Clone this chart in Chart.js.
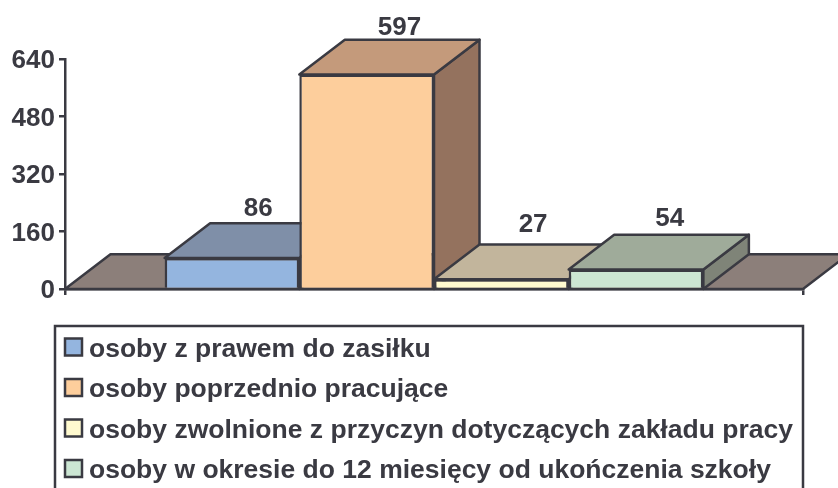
<!DOCTYPE html>
<html><head><meta charset="utf-8">
<style>html,body{margin:0;padding:0;background:#fff;overflow:hidden}#wrap{width:838px;height:488px;position:relative}</style>
<script src="https://cdn.jsdelivr.net/npm/chart.js@4"></script>
</head><body><div id="wrap"><canvas id="c" width="838" height="488"></canvas></div>
<script>
const categories = [""];
const seriesNames = [
  "osoby z prawem do zasiłku",
  "osoby poprzednio pracujące",
  "osoby zwolnione z przyczyn dotyczących zakładu pracy",
  "osoby w okresie do 12 miesięcy od ukończenia szkoły"
];
const seriesValues = [86, 597, 27, 54];
const tickValues = [0, 160, 320, 480, 640];
const frontColors = ["#94B5DF", "#FDCE9C", "#FFFACF", "#CCE6D3"];
const topColors = ["#7F8FA8", "#C49A7B", "#C2B59C", "#9FAB9A"];
const sideColors = ["#6A7688", "#94725E", "#9C9480", "#7F8478"];
const floorColor = "#8C7F7A";
const ink = "#3A3A42";
const fontFamily = '"Liberation Sans", Arial, sans-serif';
const depthX = 45.5, depthY = 34.8;
const labelShift = [[26.5, -14], [33, -12], [32, -19.5], [34, -16]];

function poly(ctx, pts, fill) {
  ctx.beginPath();
  pts.forEach((p, i) => i ? ctx.lineTo(p[0], p[1]) : ctx.moveTo(p[0], p[1]));
  ctx.closePath();
  ctx.fillStyle = fill;
  ctx.fill();
  ctx.stroke();
}

const depthPlugin = {
  id: "depth",
  beforeDatasetsDraw(chart) {
    const { ctx, chartArea: a, scales } = chart;
    const base = scales.y.getPixelForValue(0);
    ctx.save();
    ctx.strokeStyle = ink;
    ctx.lineWidth = 2.5;
    ctx.lineJoin = "round";
    poly(ctx, [[a.left, base], [a.left + depthX, base - depthY], [a.right + depthX, base - depthY], [a.right, base]], floorColor);
    chart.data.datasets.forEach((ds, i) => {
      const b = chart.getDatasetMeta(i).data[0];
      const l = b.x - b.width / 2, r = b.x + b.width / 2, t = b.y;
      poly(ctx, [[r, base], [r + depthX, base - depthY], [r + depthX, t - depthY], [r, t]], sideColors[i]);
      poly(ctx, [[l, t], [l + depthX, t - depthY], [r + depthX, t - depthY], [r, t]], topColors[i]);
    });
    ctx.restore();
  },
  afterDatasetsDraw(chart) {
    const { ctx } = chart;
    ctx.save();
    ctx.fillStyle = ink;
    ctx.font = "bold 26px " + fontFamily;
    ctx.textAlign = "center";
    ctx.textBaseline = "middle";
    chart.data.datasets.forEach((ds, i) => {
      const b = chart.getDatasetMeta(i).data[0];
      ctx.fillText(String(ds.data[0]), b.x + labelShift[i][0] + depthX / 2 - 23, b.y - depthY + labelShift[i][1]);
    });
    ctx.restore();
  },
  afterDraw(chart) {
    const { ctx } = chart;
    ctx.save();
    ctx.strokeStyle = ink;
    ctx.lineWidth = 2.5;
    ctx.beginPath();
    ctx.moveTo(55, 492);
    ctx.lineTo(55, 326);
    ctx.lineTo(803, 326);
    ctx.lineTo(803, 492);
    ctx.stroke();
    ctx.font = "bold 26.5px " + fontFamily;
    ctx.textAlign = "left";
    ctx.textBaseline = "middle";
    chart.data.datasets.forEach((ds, i) => {
      const y = 347.5 + i * 40.5;
      ctx.fillStyle = frontColors[i];
      ctx.fillRect(65, y - 9, 17, 17);
      ctx.strokeRect(65, y - 9, 17, 17);
      ctx.fillStyle = ink;
      ctx.fillText(ds.label, 89, y + 2);
    });
    ctx.restore();
  }
};

new Chart(document.getElementById("c"), {
  type: "bar",
  data: {
    labels: categories,
    datasets: seriesNames.map((name, i) => ({
      label: name,
      data: [seriesValues[i]],
      backgroundColor: frontColors[i],
      borderColor: ink,
      borderWidth: 2.5,
      categoryPercentage: 0.73,
      barPercentage: 1
    }))
  },
  options: {
    responsive: false,
    animation: false,
    layout: { padding: { left: 0, right: 35, top: 59, bottom: 199 } },
    plugins: { legend: { display: false }, tooltip: { enabled: false }, title: { display: false } },
    scales: {
      x: {
        offset: true,
        afterFit(s) { s.height = 0; },
        ticks: { display: false },
        border: { display: true, color: ink, width: 2.5 },
        grid: { display: true, drawOnChartArea: false, drawTicks: true, tickLength: 6, color: ink, lineWidth: 2.5, offset: true }
      },
      y: {
        min: 0,
        max: 640,
        afterFit(s) { s.width = 65; },
        afterBuildTicks(s) { s.ticks = tickValues.map(v => ({ value: v })); },
        ticks: { color: ink, padding: 4, labelOffset: 2, font: { family: fontFamily, size: 26, weight: "bold" } },
        border: { display: true, color: ink, width: 2.5 },
        grid: { display: true, drawOnChartArea: false, drawTicks: true, tickLength: 6, color: ink, lineWidth: 2.5 }
      }
    }
  },
  plugins: [depthPlugin]
});
</script></body></html>
